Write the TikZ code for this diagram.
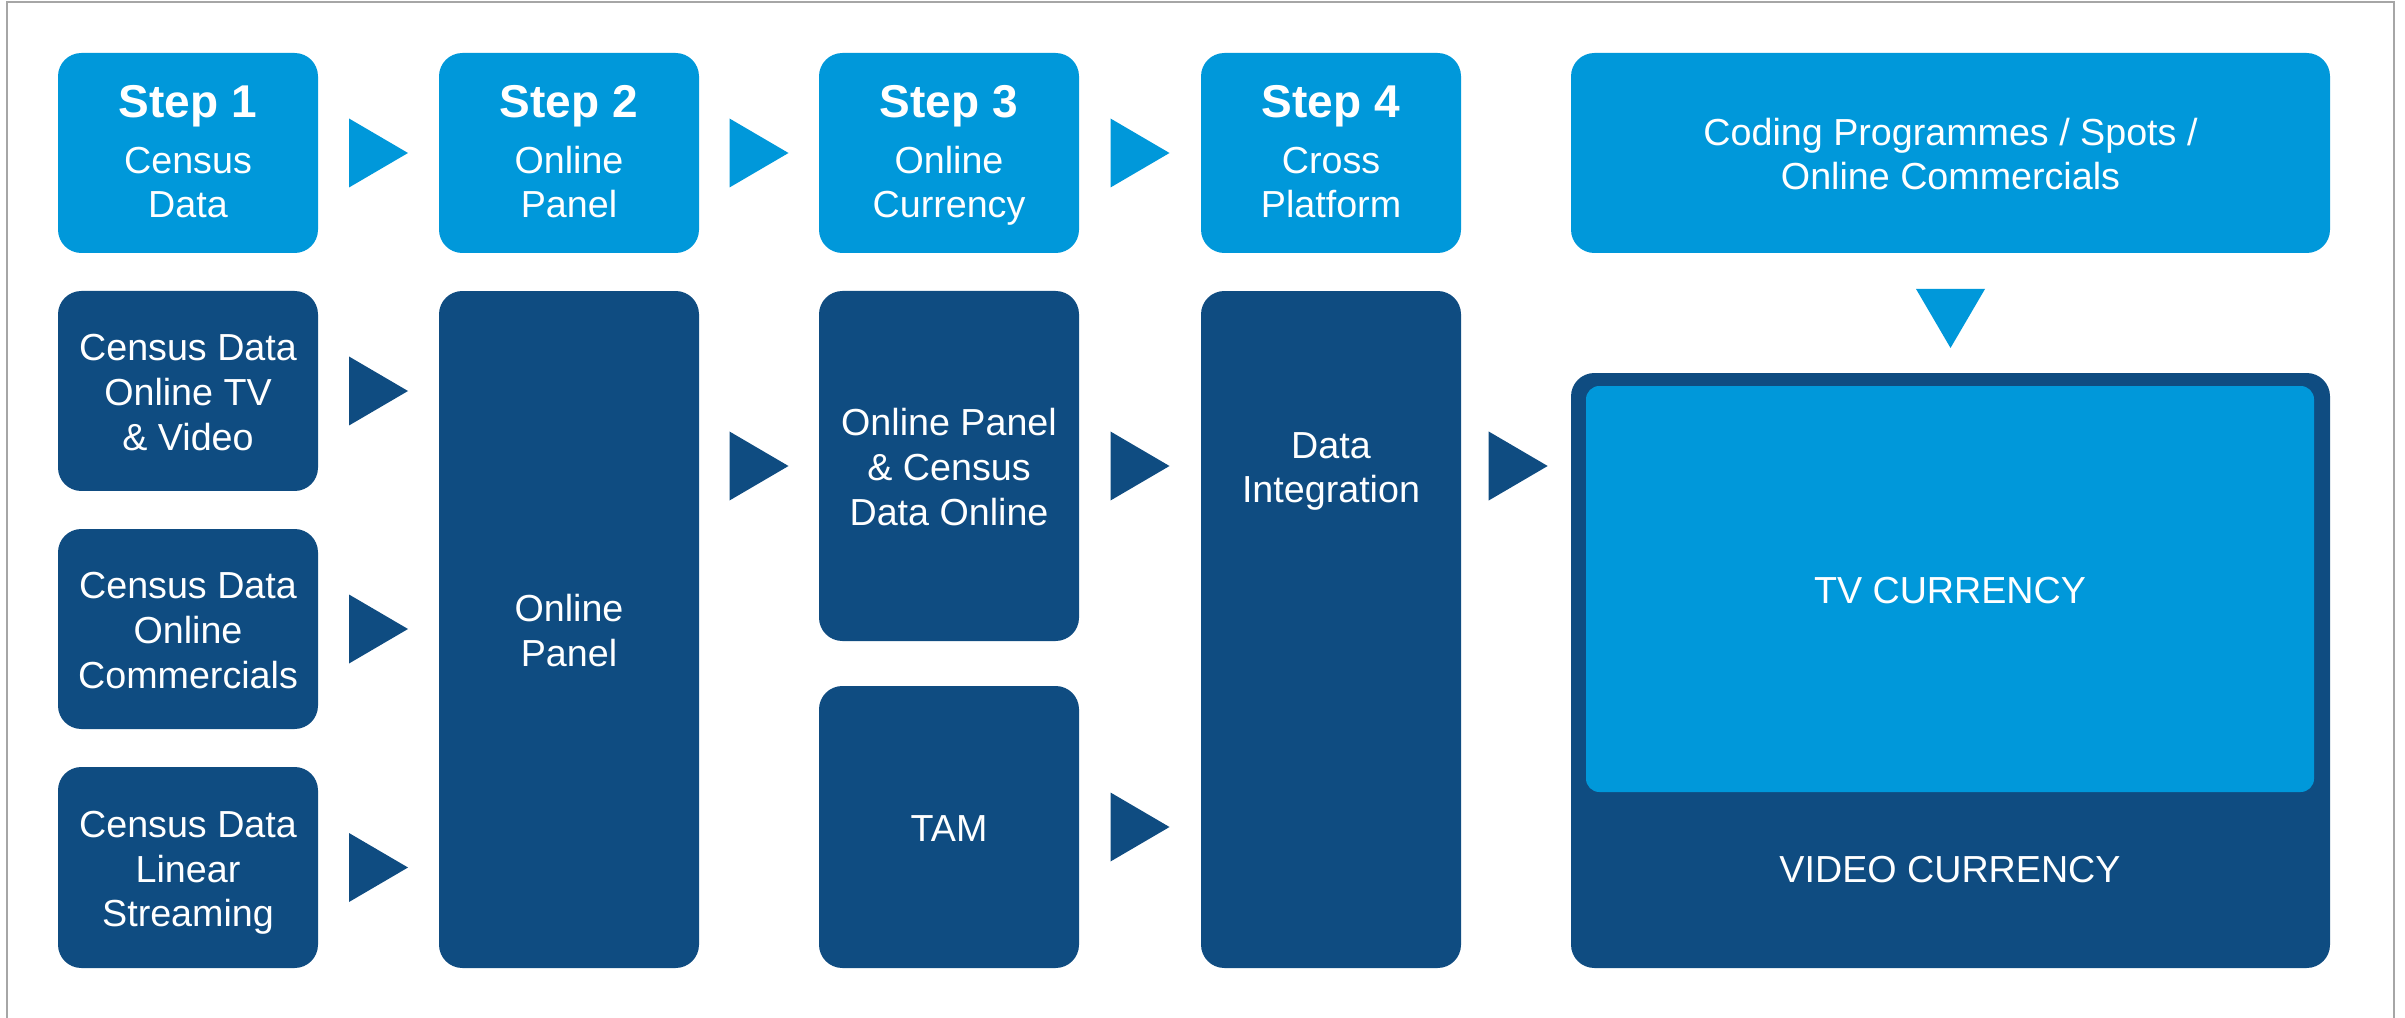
\documentclass[tikz,border=0pt]{standalone}
\usepackage{fontspec}
\setmainfont{Liberation Sans}
\usetikzlibrary{calc}
\definecolor{lightblue}{HTML}{0098DA}
\definecolor{darkblue}{HTML}{0F4C81}
\definecolor{framegray}{HTML}{A6A6A6}
\newcommand{\bodyfont}{\fontsize{11.3}{13.4}\selectfont}
\newcommand{\stepfont}{\fontsize{13.8}{16}\selectfont\bfseries}
\newcommand{\myrtri}[2]{\fill[#2] (#1) ++(-29.5,-34.5) -- ++(59,34.5) -- ++(-59,34.5) -- cycle;}
\newcommand{\mydtri}[2]{\fill[#2] (#1) ++(-34.5,-29.5) -- ++(69,0) -- ++(-34.5,59) -- cycle;}
\begin{document}
\begin{tikzpicture}[x=0.3pt,y=-0.3pt,
  box/.style={rectangle, rounded corners=7pt, inner sep=0pt, text=white, align=center,
    font=\bodyfont, text height=8.7pt, text depth=0pt, minimum width=78pt, minimum height=60pt},
  lbox/.style={box, fill=lightblue},
  dbox/.style={box, fill=darkblue},
  txt/.style={text=white, align=center, font=\bodyfont, inner sep=0pt, text height=8.7pt, text depth=0pt},
  two lines/.style={text height=22.1pt},
  three lines/.style={text height=35.5pt},
  step lines/.style={text height=38.9pt},
  frame/.style={draw=framegray, line width=0.6pt}
]
\path[use as bounding box] (0,0) rectangle (2405,1018);
\draw[frame] (7,1030) -- (7,2) -- (2394,2) -- (2394,1030);

% top row
\node[lbox, step lines] (s1) at (188,153) {{\stepfont Step 1}\\[3.4pt]Census\\Data};
\node[lbox, step lines] (s2) at (569,153) {{\stepfont Step 2}\\[3.4pt]Online\\Panel};
\node[lbox, step lines] (s3) at (949,153) {{\stepfont Step 3}\\[3.4pt]Online\\Currency};
\node[lbox, step lines] (s4) at (1331,153) {{\stepfont Step 4}\\[3.4pt]Cross\\Platform};
\node[lbox, two lines, minimum width=227.7pt] (coding) at (1950.5,153) {Coding Programmes / Spots /\\Online Commercials};

% column 1
\node[dbox, three lines] (c1) at (188,391) {Census Data\\Online TV\\\& Video};
\node[dbox, three lines] (c2) at (188,629) {Census Data\\Online\\Commercials};
\node[dbox, three lines, minimum height=60.3pt] (c3) at (188,867.5) {Census Data\\Linear\\Streaming};

% column 2
\node[dbox, two lines, minimum height=203.1pt] (op) at (569,629.5) {Online\\Panel};

% column 3
\node[dbox, three lines, minimum height=105pt] (opc) at (949,466) {Online Panel\\\& Census\\Data Online};
\node[dbox, minimum height=84.6pt] (tam) at (949,827) {TAM};

% column 4
\node[dbox, minimum height=203.1pt] (di) at (1331,629.5) {};
\node[txt, two lines] (ditext) at (di.center |- opc) {Data\\Integration};

% currency block
\node[dbox, minimum width=227.7pt, minimum height=178.5pt] (big) at (1950.5,670.5) {};
\node[lbox, rounded corners=4pt, minimum width=218.4pt, minimum height=121.8pt] (tv) at (1950,589) {TV CURRENCY};
\node[txt] (video) at (tv.center |- c3) {VIDEO CURRENCY};

% triangles, top row
\coordinate (t12) at ($(s1.east)!0.5!(s2.west)$);
\coordinate (t23) at ($(s2.east)!0.5!(s3.west)$);
\coordinate (t34) at ($(s3.east)!0.5!(s4.west)$);
\myrtri{t12}{lightblue}
\myrtri{t23}{lightblue}
\myrtri{t34}{lightblue}
\coordinate (tdown) at ($(coding.south)!0.546!(big.north)$);
\mydtri{tdown}{lightblue}

% triangles, lower rows
\coordinate (u1) at ($(c1.east)!0.5!(c1.east -| op.west)$);
\coordinate (u2) at ($(c2.east)!0.5!(c2.east -| op.west)$);
\coordinate (u3) at ($(c3.east)!0.5!(c3.east -| op.west)$);
\coordinate (u4) at ($(op.east |- opc)!0.5!(opc.west)$);
\coordinate (u5) at ($(opc.east)!0.5!(opc.east -| di.west)$);
\coordinate (u6) at ($(tam.east)!0.5!(tam.east -| di.west)$);
\coordinate (u7) at ($(di.east |- opc)!0.52!(big.west |- opc)$);
\myrtri{u1}{darkblue}
\myrtri{u2}{darkblue}
\myrtri{u3}{darkblue}
\myrtri{u4}{darkblue}
\myrtri{u5}{darkblue}
\myrtri{u6}{darkblue}
\myrtri{u7}{darkblue}
\end{tikzpicture}
\end{document}
